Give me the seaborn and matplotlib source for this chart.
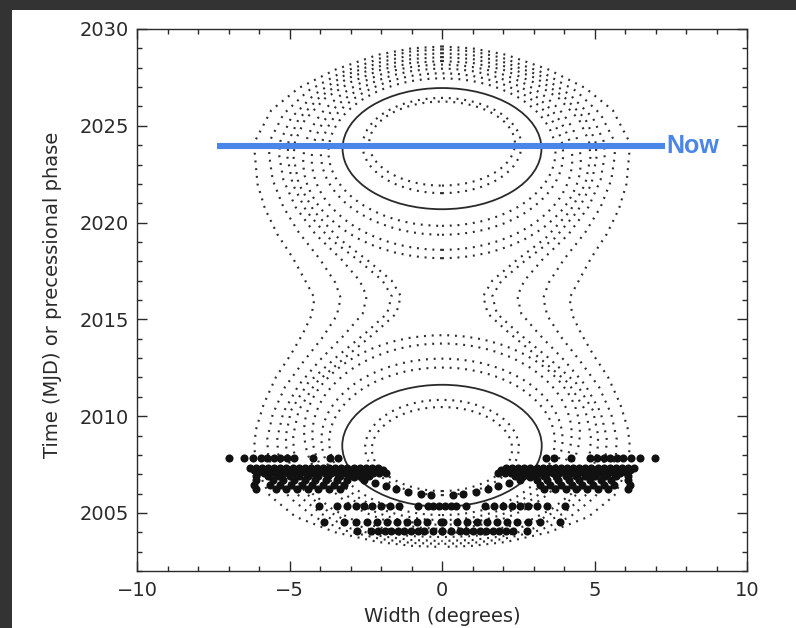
import numpy as np
import pandas as pd
import matplotlib
matplotlib.use("Agg")
import matplotlib.pyplot as plt
from matplotlib.patches import Ellipse, Rectangle
from matplotlib.ticker import MultipleLocator
import seaborn as sns

# ---------------- data ----------------
x_ticks = [-10, -5, 0, 5, 10]
y_ticks = [2005, 2010, 2015, 2020, 2025, 2030]
x_label = "Width (degrees)"
y_label = "Time (MJD) or precessional phase"

now_epoch = 2023.93
now_span = [-7.39, 7.31]
now_text = "Now"

# solid beam contours: centre epoch, half-width, half-height
solid_centre = [2023.82, 2008.47]
solid_halfwidth = [3.26, 3.27]
solid_halfheight = [3.13, 3.15]

# closed dotted contours around the upper peak
top_oval_centre = [2024.08, 2023.98, 2023.64, 2023.54, 2023.27, 2023.16]
top_oval_halfwidth = [2.39, 2.60, 3.72, 3.97, 4.27, 4.55]
top_oval_halfheight = [2.17, 2.46, 3.81, 4.17, 4.68, 5.00]

# closed dotted contours around the lower peak
bot_oval_centre = [2008.30, 2008.38, 2008.70, 2008.80, 2009.07, 2009.18]
bot_oval_halfwidth = [2.30, 2.52, 3.70, 3.95, 4.25, 4.52]
bot_oval_halfheight = [2.17, 2.46, 3.81, 4.17, 4.68, 5.00]

# open (hour-glass) dotted contours, right half, from top (x=0) to bottom (x=0)
hg0_x = [0, 1.0, 2.0, 3.0, 3.85, 4.5, 4.82, 4.87, 4.7, 4.2, 3.4, 2.4, 1.65, 1.35, 1.5, 2.2, 3.2, 4.15, 4.7, 4.88, 4.86, 4.7, 4.25, 3.6, 2.8, 1.9, 1.0, 0]
hg0_y = [2028.35, 2028.25, 2027.9, 2027.25, 2026.4, 2025.3, 2024.2, 2023.4, 2022.0, 2020.6, 2019.2, 2018.0, 2017.0, 2016.2, 2015.3, 2014.3, 2013.0, 2011.7, 2010.3, 2009.0, 2008.2, 2007.1, 2006.0, 2005.2, 2004.55, 2004.2, 2004.02, 2003.95]
hg1_x = [0, 1.0, 2.0, 3.1, 4.0, 4.7, 5.03, 5.07, 4.9, 4.45, 3.7, 2.7, 1.95, 1.65, 1.8, 2.5, 3.5, 4.4, 4.95, 5.12, 5.1, 4.92, 4.45, 3.75, 2.9, 2.0, 1.0, 0]
hg1_y = [2028.55, 2028.45, 2028.1, 2027.45, 2026.5, 2025.35, 2024.2, 2023.4, 2022.0, 2020.6, 2019.2, 2018.0, 2017.0, 2016.2, 2015.3, 2014.3, 2013.0, 2011.7, 2010.3, 2009.0, 2008.2, 2007.1, 2006.0, 2005.1, 2004.4, 2004.0, 2003.8, 2003.75]
hg2_x = [0, 1.0, 2.0, 3.2, 4.2, 4.95, 5.3, 5.34, 5.2, 4.8, 4.15, 3.3, 2.7, 2.47, 2.6, 3.2, 4.0, 4.7, 5.2, 5.4, 5.38, 5.2, 4.7, 3.95, 3.0, 2.0, 1.0, 0]
hg2_y = [2028.75, 2028.65, 2028.3, 2027.6, 2026.6, 2025.4, 2024.2, 2023.5, 2022.2, 2020.8, 2019.4, 2018.1, 2017.0, 2016.2, 2015.3, 2014.2, 2012.9, 2011.6, 2010.2, 2008.9, 2008.1, 2007.0, 2005.9, 2004.95, 2004.2, 2003.8, 2003.6, 2003.55]
hg3_x = [0, 1.0, 2.0, 3.3, 4.4, 5.2, 5.62, 5.67, 5.55, 5.2, 4.7, 4.0, 3.5, 3.32, 3.45, 3.9, 4.55, 5.15, 5.55, 5.73, 5.7, 5.5, 5.0, 4.2, 3.2, 2.0, 1.0, 0]
hg3_y = [2028.95, 2028.85, 2028.5, 2027.75, 2026.8, 2025.6, 2024.3, 2023.5, 2022.2, 2020.8, 2019.5, 2018.1, 2016.9, 2016.1, 2015.2, 2014.1, 2012.8, 2011.5, 2010.1, 2008.8, 2008.0, 2006.9, 2005.8, 2004.8, 2004.1, 2003.65, 2003.45, 2003.4]
hg4_x = [0, 1.0, 2.1, 3.5, 4.7, 5.6, 6.1, 6.14, 6.05, 5.8, 5.4, 4.9, 4.45, 4.18, 4.28, 4.55, 4.95, 5.45, 5.85, 6.1, 6.16, 6.05, 5.65, 4.8, 3.5, 2.1, 1.0, 0]
hg4_y = [2029.1, 2029.0, 2028.67, 2027.9, 2026.95, 2025.8, 2024.3, 2023.6, 2022.0, 2020.7, 2019.4, 2018.2, 2016.9, 2016.1, 2015.2, 2014.3, 2013.2, 2012.0, 2010.6, 2009.3, 2008.4, 2007.2, 2005.9, 2004.8, 2004.0, 2003.5, 2003.3, 2003.24]

# measured widths (half-widths, plotted at +/-) per epoch row
obs_rowA_epoch = 2007.86
obs_rowA_hw = [3.40, 3.67, 4.24, 4.84, 5.09, 5.31, 5.52, 5.74, 5.95, 6.21, 6.50, 6.99]
obs_band1_epoch = 2007.33
obs_band1_hw = [2.10, 2.30, 2.50, 2.70, 2.90, 3.10, 3.30, 3.50, 3.70, 3.90, 4.10, 4.30, 4.50, 4.70, 4.90, 5.10, 5.30, 5.50, 5.70, 5.90, 6.10, 6.30]
obs_band2_epoch = 2007.20
obs_band2_hw = [1.95, 2.15, 2.35, 2.55, 2.75, 2.95, 3.15, 3.35, 3.55, 3.75, 3.95, 4.15, 4.35, 4.55, 4.75, 4.95, 5.15, 5.35, 5.55, 5.75, 5.95, 6.15]
obs_band3_epoch = 2007.07
obs_band3_hw = [1.85, 2.05, 2.25, 2.45, 2.65, 2.85, 3.05, 3.25, 3.45, 3.65, 3.85, 4.05, 4.25, 4.45, 4.65, 4.85, 5.05, 5.25, 5.45, 5.65, 5.85, 6.05]
obs_band4_epoch = 2006.92
obs_band4_hw = [2.40, 2.65, 3.05, 3.35, 3.75, 4.05, 4.40, 4.70, 5.00, 5.35, 5.70, 6.10]
obs_streak1_epoch = 2006.70
obs_streak1_hw = [3.10, 3.45, 3.80, 4.15, 4.50, 4.85, 5.20, 5.55, 6.10]
obs_streak2_epoch = 2006.45
obs_streak2_hw = [3.20, 3.55, 3.90, 4.25, 4.60, 4.95, 5.30, 5.65, 6.15]
obs_streak3_epoch = 2006.22
obs_streak3_hw = [3.35, 3.70, 4.05, 4.40, 4.75, 5.10, 5.45, 6.10]
obs_diag_epoch = [2006.85, 2006.70, 2006.55, 2006.40, 2006.25, 2006.10, 2006.00, 2005.95]
obs_diag_hw = [2.90, 2.55, 2.20, 1.85, 1.50, 1.10, 0.70, 0.35]
obs_rowB_epoch = 2005.35
obs_rowB_hw = [0.10, 0.30, 0.45, 0.78, 1.42, 1.72, 2.00, 2.28, 2.55, 2.82, 3.12, 3.45, 4.02]
obs_rowC_epoch = 2004.55
obs_rowC_hw = [0.02, 0.50, 0.82, 1.14, 1.48, 1.80, 2.13, 2.46, 2.82, 3.22, 3.88]
obs_rowD_epoch = 2004.05
obs_rowD_hw = [0.00, 0.30, 0.59, 0.80, 1.02, 1.24, 1.45, 1.66, 1.88, 2.10, 2.32, 2.79]

# ---------------- style ----------------
sns.set_style("ticks")
plt.rcParams["font.family"] = ["DejaVu Sans"]
INK = "#2a2a2a"
DOTINK = "#2e2e2e"
DOT = (0, (0.9, 2.7))

fig = plt.figure(figsize=(7.96, 6.28), dpi=100, facecolor="white")
ax = fig.add_axes([137 / 796, 1 - 571 / 628, 610 / 796, 542 / 628])
ax.set_facecolor("white")

# dark frame strips (top and left) of the screenshot
fig.patches.append(Rectangle((0, 1 - 10 / 628), 1, 10 / 628, transform=fig.transFigure,
                             facecolor="#333333", edgecolor="none", zorder=0))
fig.patches.append(Rectangle((0, 0), 12 / 796, 1, transform=fig.transFigure,
                             facecolor="#333333", edgecolor="none", zorder=0))

# closed contours
for c, hw, hh in zip(top_oval_centre + bot_oval_centre,
                     top_oval_halfwidth + bot_oval_halfwidth,
                     top_oval_halfheight + bot_oval_halfheight):
    ax.add_patch(Ellipse((0, c), 2 * hw, 2 * hh, fill=False, edgecolor=DOTINK,
                         linewidth=1.55, linestyle=DOT, zorder=2))
for c, hw, hh in zip(solid_centre, solid_halfwidth, solid_halfheight):
    ax.add_patch(Ellipse((0, c), 2 * hw, 2 * hh, fill=False, edgecolor=INK,
                         linewidth=1.3, linestyle="-", zorder=2))

# open contours (mirror right half to full curve)
rows = []
for k, (hx, hy) in enumerate([(hg0_x, hg0_y), (hg1_x, hg1_y), (hg2_x, hg2_y),
                              (hg3_x, hg3_y), (hg4_x, hg4_y)]):
    for side in (1, -1):
        for i, (xv, yv) in enumerate(zip(hx, hy)):
            rows.append({"curve": f"{k}{side}", "order": i, "x": side * xv, "y": yv})
hg = pd.DataFrame(rows)
for name, g in hg.groupby("curve"):
    sns.lineplot(data=g, x="x", y="y", sort=False, estimator=None, ax=ax,
                 color=DOTINK, linewidth=1.55, linestyle=DOT, zorder=2)

# observed points
ep, hw = [], []
def add_row(e, lst):
    for v in lst:
        ep.extend([e, e]); hw.extend([v, -v])
for e, lst in [(obs_rowA_epoch, obs_rowA_hw), (obs_band1_epoch, obs_band1_hw),
               (obs_band2_epoch, obs_band2_hw), (obs_band3_epoch, obs_band3_hw),
               (obs_band4_epoch, obs_band4_hw),
               (obs_streak1_epoch, obs_streak1_hw), (obs_streak2_epoch, obs_streak2_hw),
               (obs_streak3_epoch, obs_streak3_hw), (obs_rowB_epoch, obs_rowB_hw),
               (obs_rowC_epoch, obs_rowC_hw), (obs_rowD_epoch, obs_rowD_hw)]:
    add_row(e, lst)
for e, v in zip(obs_diag_epoch, obs_diag_hw):
    ep.extend([e, e]); hw.extend([v, -v])
obs = pd.DataFrame({"width": hw, "epoch": ep})
sns.scatterplot(data=obs, x="width", y="epoch", ax=ax, color="#111111",
                s=34, linewidth=0, zorder=3)

# "Now" line
now_df = pd.DataFrame({"x": now_span, "y": [now_epoch, now_epoch]})
sns.lineplot(data=now_df, x="x", y="y", ax=ax, color="#4a86e8", linewidth=4.4,
             zorder=4, solid_capstyle="butt")
ax.text(now_span[1] + 0.06, now_epoch, now_text, color="#4a86e8", fontsize=18,
        fontweight="bold", family=["Liberation Sans", "DejaVu Sans"],
        ha="left", va="center", zorder=5)

# axes
ax.set_xlim(-10, 10)
ax.set_ylim(2002, 2030)
ax.set_xticks(x_ticks)
ax.set_yticks(y_ticks)
ax.xaxis.set_minor_locator(MultipleLocator(1))
ax.yaxis.set_minor_locator(MultipleLocator(1))
ax.set_xticklabels(["\u221210", "\u22125", "0", "5", "10"])
ax.tick_params(which="both", direction="in", top=True, right=True, color=INK,
               labelcolor=INK, labelsize=14)
ax.tick_params(which="major", length=7, width=1.0)
ax.tick_params(which="minor", length=3.5, width=1.0)
ax.tick_params(axis="x", which="major", pad=7)
ax.tick_params(axis="y", which="major", pad=6)
for sp in ax.spines.values():
    sp.set_color(INK)
    sp.set_linewidth(1.0)
ax.set_xlabel(x_label, fontsize=14, color=INK, labelpad=5)
ax.set_ylabel(y_label, fontsize=14, color=INK)
ax.yaxis.set_label_coords(-0.123, 0.51)

fig.savefig("out.png", dpi=100, facecolor=fig.get_facecolor())
